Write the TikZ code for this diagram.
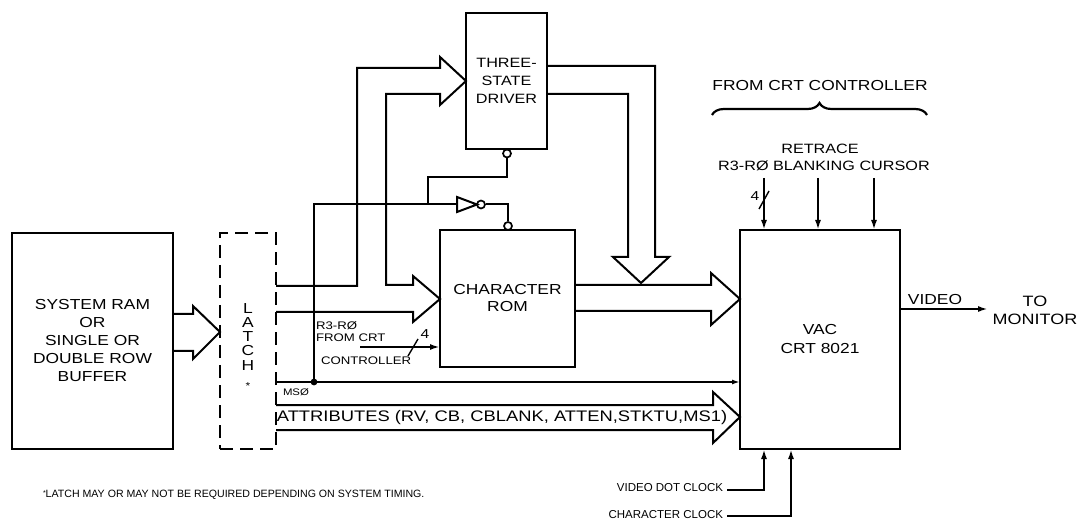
\documentclass[tikz,border=0pt]{standalone}
\usepackage{fontspec}
\setmainfont{Liberation Sans}[FakeStretch=1.2]
\newfontfamily\plainfont{Liberation Sans}
\usetikzlibrary{arrows.meta,decorations.pathreplacing}
\newcommand\fsz[2]{\fontsize{#1}{#2}\selectfont}
\begin{document}
\begin{tikzpicture}[x=1pt,y=-1pt, line width=2pt, line join=miter,
  box/.style={draw, rectangle, inner sep=0pt, outer sep=0pt, align=center},
  lbl/.style={inner sep=0pt, outer sep=0pt, align=center},
  sig/.style={-{Latex[length=10pt,width=6pt]}},
  smallsig/.style={-{Latex[length=8pt,width=5pt]}},
  bubble/.style={draw, circle, inner sep=0pt, minimum size=8pt, line width=1.7pt},
]
\useasboundingbox (0,0) rectangle (1082,521);

% ---------- blocks ----------
\node[box, minimum width=161pt, minimum height=216pt, font=\fsz{14.5}{18}] (ram) at (92.5,341)
  {SYSTEM RAM\\OR\\SINGLE OR\\DOUBLE ROW\\BUFFER};
\node[box, dash pattern=on 13pt off 7pt, minimum width=56pt, minimum height=216pt] (latch) at (248,341) {};
\foreach \c/\y/\n in {L/309/a, A/323/b, T/337/c, C/351/d, H/366/e}
  \node[lbl, font=\fsz{14.5}{15}] (latch\n) at (248,\y) {\c};
\node[lbl, font=\fsz{10}{10}] (latchf) at (248,386) {*};
\node[box, minimum width=81pt, minimum height=136pt, font=\fsz{13.5}{18}] (tsd) at (506.5,81)
  {THREE-\\STATE\\DRIVER};
\node[box, minimum width=135pt, minimum height=137pt, font=\fsz{14.5}{17}] (rom) at (507.5,298.5)
  {CHARACTER\\ROM};
\node[box, minimum width=160pt, minimum height=219pt, font=\fsz{14.5}{19}] (vac) at (820,339.5)
  {VAC\\CRT 8021};

% ---------- hollow buses ----------
\draw (ram.east |- 0,314) -- (193,314) -- (193,306) -- (latch.west |- 0,332)
  -- (193,359) -- (193,351) -- (ram.east |- 0,351);
\draw (latch.east |- 0,286) -- (357,286) -- (357,68) -- (440,68) -- (440,57)
  -- (tsd.west |- 0,81) -- (440,105) -- (440,94) -- (386,94) -- (386,285)
  -- (413,285) -- (413,276) -- (rom.west |- 0,299) -- (413,322) -- (413,312)
  -- (latch.east |- 0,312);
\draw (tsd.east |- 0,66) -- (655,66) -- (655,257) -- (669,257) -- (641,283)
  -- (613,257) -- (628,257) -- (628,94) -- (tsd.east |- 0,94);
\draw (rom.east |- 0,285) -- (711,285) -- (711,273) -- (vac.west |- 0,299)
  -- (711,325) -- (711,311) -- (rom.east |- 0,311);
\draw (latch.east |- 0,405) -- (713,405) -- (713,392) -- (vac.west |- 0,417)
  -- (713,443) -- (713,430) -- (latch.east |- 0,430);
\node[lbl, font=\fsz{15.3}{16}] (attr) at (502,418) {ATTRIBUTES (RV, CB, CBLANK, ATTEN,STKTU,MS1)};

% ---------- MS0 and enables ----------
\coordinate (j1) at (314,382);
\draw[smallsig] (latch.east |- j1) -- (vac.west |- j1);
\fill (j1) circle (3.4pt);
\node[lbl, anchor=west, font=\fsz{9.5}{10}] (mslbl) at (283,392) {MSØ};
\coordinate (invin) at (457,204.5);
\draw (invin) -- ++(0,-7.5) -- (477,204.5) -- (457,212) -- cycle;
\node[bubble] (invb) at (481,204.5) {};
\node[bubble] (romen) at (508,226) {};
\node[bubble] (tsden) at (507,153.5) {};
\draw (j1) -- (j1 |- invin) -- (invin);
\draw (invb.east) -- (romen |- invb) -- (romen.north);
\draw (428,204.5) -- (428,177) -- (tsden |- 0,177) -- (tsden.south);

% ---------- R3-R0 into ROM ----------
\coordinate (r3s) at (360,347);
\draw[sig] (r3s) -- (rom.west |- r3s);
\draw[line width=1.4pt] (408,356) -- (418,339);
\node[lbl, font=\fsz{13}{13}] (n4a) at (425,334) {4};
\node[lbl, anchor=west, font=\fsz{11}{12}] (r3a) at (316,326) {R3-RØ};
\node[lbl, anchor=west, font=\fsz{11}{12}] (r3b) at (316,338) {FROM CRT};
\node[lbl, anchor=west, font=\fsz{11}{12}] (r3c) at (321,361) {CONTROLLER};

% ---------- inputs from CRT controller ----------
\node[lbl, font=\fsz{14.5}{15}] (fromcrt) at (820,86) {FROM CRT CONTROLLER};
\draw[decorate, decoration={brace, amplitude=12pt}, line width=2.2pt] (712,115) -- (927,115);
\node[lbl, font=\fsz{13.5}{14}] (retr) at (820,149) {RETRACE};
\node[lbl, font=\fsz{13.5}{14}] (rblk) at (824,166) {R3-RØ BLANKING CURSOR};
\foreach \x in {764,818,874}
  \draw[sig] (\x,178) -- (vac.north -| \x,0);
\draw[line width=1.4pt] (759,209) -- (769,191);
\node[lbl, font=\fsz{13}{13}] (n4b) at (755,196) {4};

% ---------- video out ----------
\coordinate (vo) at (988,309);
\draw[sig] (vac.east |- vo) -- (vo);
\node[lbl, font=\fsz{14.5}{15}] (vid) at (935,300) {VIDEO};
\node[lbl, font=\fsz{15}{18}] (mon) at (1035,310) {TO\\MONITOR};

% ---------- clocks ----------
\node[lbl, anchor=east, font=\plainfont\fsz{11.5}{12}] (vdc) at (723,488) {VIDEO DOT CLOCK};
\node[lbl, anchor=east, font=\plainfont\fsz{11.5}{12}] (chc) at (723,515) {CHARACTER CLOCK};
\draw[sig] (727,490) -- (764,490) -- (vac.south -| 764,0);
\draw[sig] (727,516) -- (791,516) -- (vac.south -| 791,0);

% ---------- footnote ----------
\node[lbl, anchor=west, font=\plainfont\fsz{10.6}{12}] (foot) at (43,495)
  {\raisebox{2pt}{\fsz{7}{7}*}LATCH MAY OR MAY NOT BE REQUIRED DEPENDING ON SYSTEM TIMING.};
\end{tikzpicture}
\end{document}
